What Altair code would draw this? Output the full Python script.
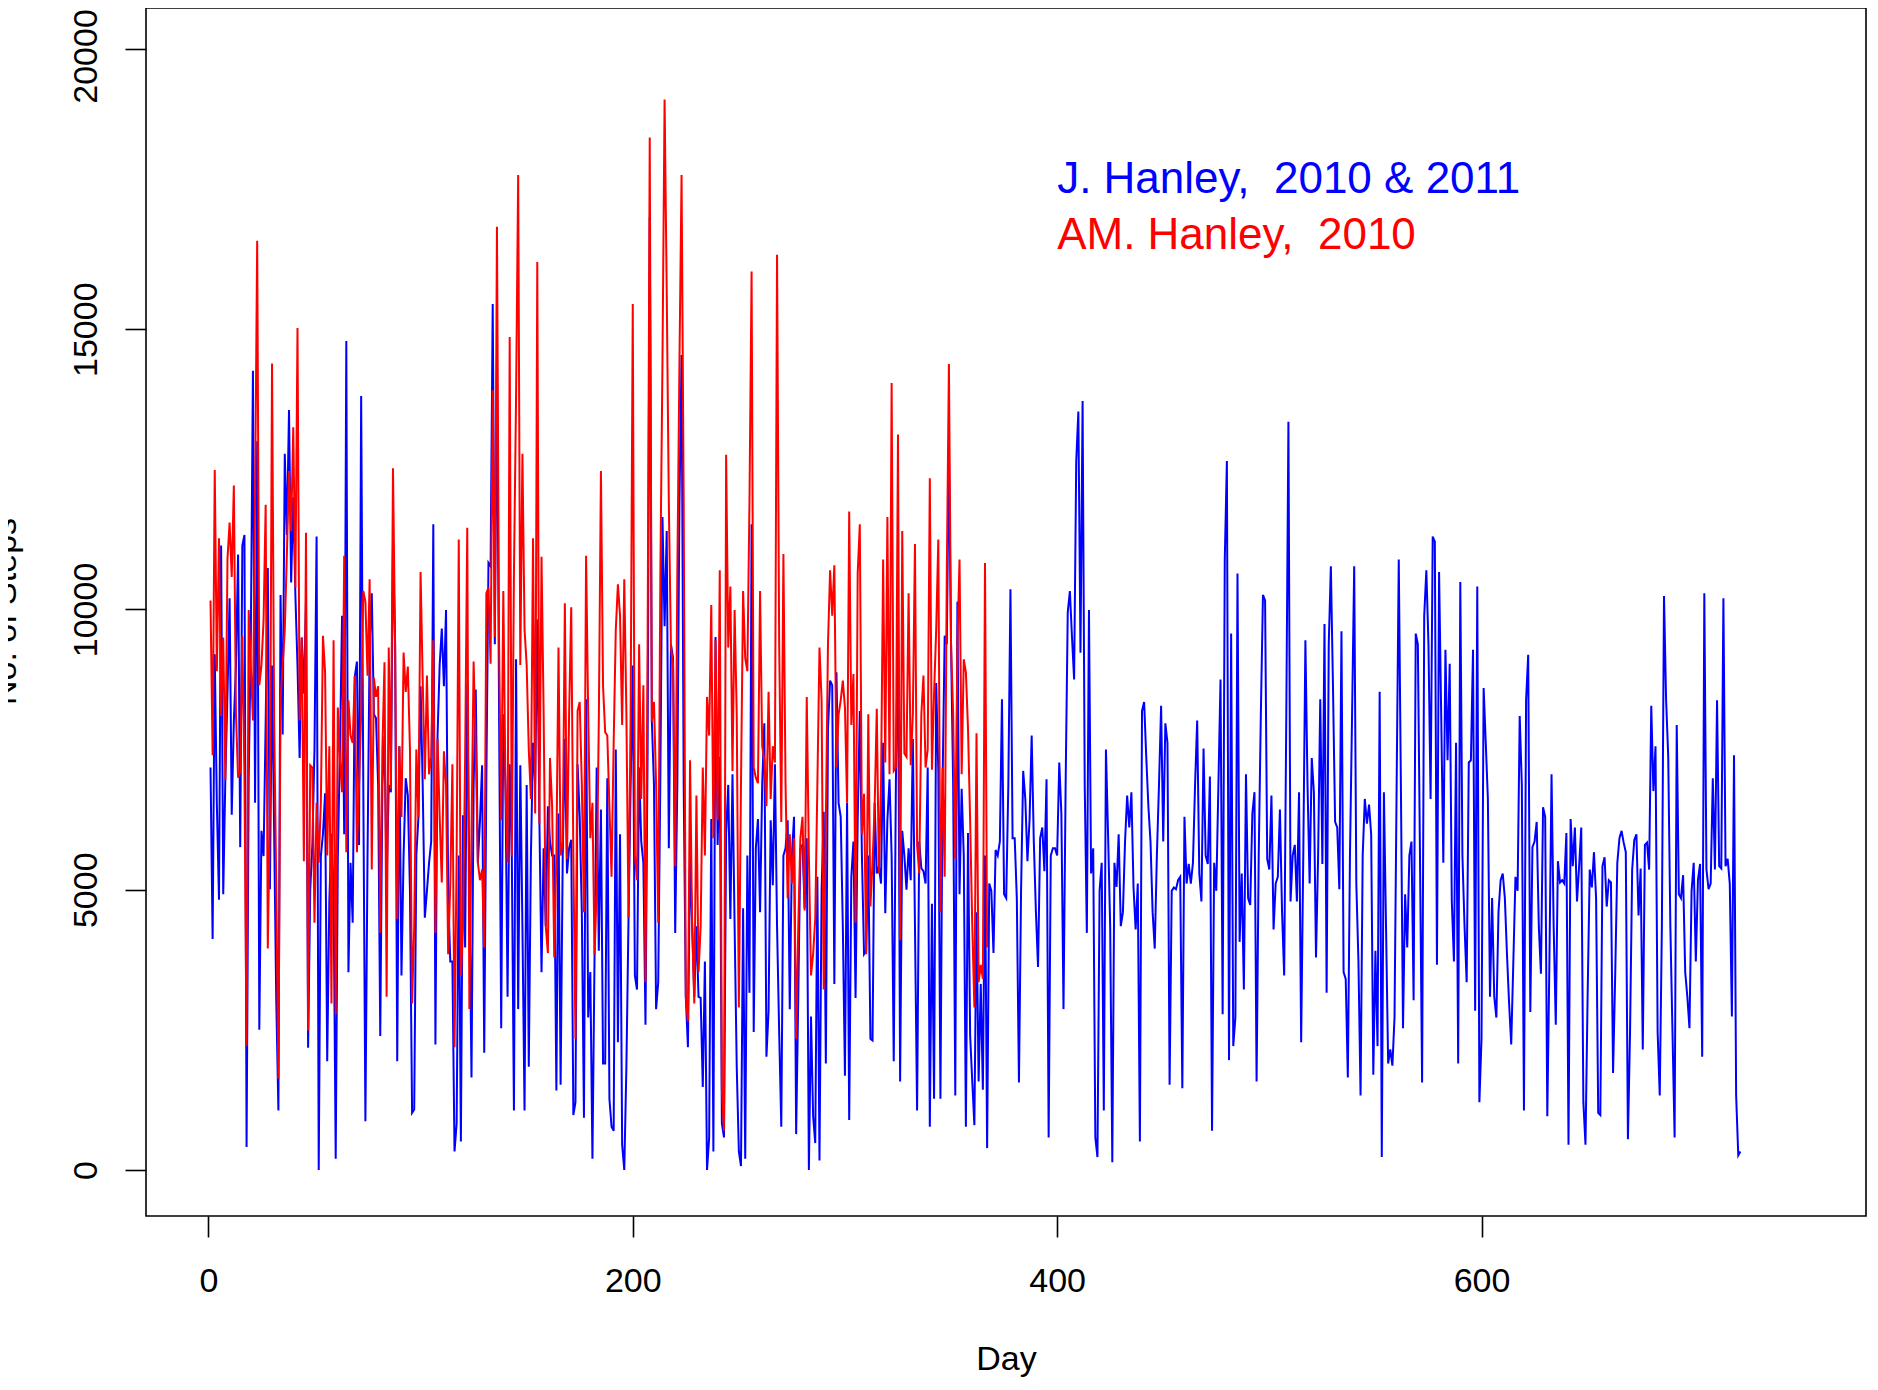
import altair as alt
import pandas as pd

# Daily step counts
blue_steps = [
    7180, 4120, 9200, 6500, 4820, 11140, 4920, 7000, 8500, 10200,
    6340, 8000, 9000, 10980, 5760, 11140, 11330, 410, 7000, 9500,
    14260, 6550, 13000, 2500, 6050, 5600, 8000, 10740, 5010, 9000,
    6000, 3000, 1060, 10260, 7770, 12780, 11330, 13560, 10480, 12000,
    10260, 9000, 7350, 9500, 8500, 10140, 2180, 5000, 5800, 7500,
    11300, 0, 5600, 6000, 6720, 1940, 4790, 6000, 5000, 200,
    5600, 7500, 9890, 5990, 14790, 3530, 5480, 4410, 8800, 9070,
    5800, 13810, 6900, 870, 5600, 9400, 10290, 8130, 8060, 6870,
    2390, 6870, 7750, 5110, 6870, 6740, 11140, 9380, 1940, 7560,
    3470, 5610, 6990, 6680, 4980, 1020, 1080, 5610, 6300, 8630,
    6870, 4500, 4980, 5480, 5860, 11520, 2240, 7750, 9010, 9660,
    8630, 9990, 4980, 3720, 3720, 330, 830, 5610, 510, 6330,
    3970, 8690, 5000, 1650, 6870, 8570, 5480, 6230, 7220, 2090,
    6990, 10830, 10770, 15450, 9380, 14500, 8130, 2530, 8130, 6870,
    3090, 7240, 5610, 1060, 9110, 2870, 7220, 4350, 1060, 6870,
    1840, 5610, 7620, 6870, 9820, 6240, 3530, 5740, 4350, 6490,
    5860, 5610, 5610, 1420, 6360, 1520, 5610, 7690, 5290, 5740,
    5890, 980, 1210, 7240, 6300, 4600, 930, 8400, 2720, 3530,
    200, 3850, 7180, 3910, 6430, 1900, 1900, 6990, 1270, 770,
    700, 7500, 2280, 5990, 450, 0, 1840, 4480, 6870, 9000,
    3470, 3220, 7180, 5860, 5480, 2590, 7500, 17000, 8000, 6870,
    2870, 3350, 7000, 11650, 9700, 11400, 5740, 9380, 9130, 4230,
    6870, 11900, 14540, 6870, 3090, 2190, 5610, 4350, 3090, 4350,
    3090, 3070, 1480, 3720, 0, 570, 6260, 330, 9510, 5800,
    7370, 830, 580, 6000, 6870, 4480, 7060, 4350, 1840, 330,
    70, 4670, 200, 5610, 3160, 11520, 2460, 5740, 6260, 4600,
    6870, 7970, 2020, 2840, 6240, 5080, 7240, 4350, 2460, 770,
    5610, 5740, 6240, 2870, 5610, 6300, 640, 3090, 5740, 5800,
    4670, 5920, 0, 2740, 960, 480, 5230, 170, 5000, 6390,
    1900, 7870, 8730, 8650, 3320, 8880, 6550, 6300, 4350, 1680,
    6550, 890, 5230, 5860, 3070, 6240, 8190, 5610, 3850, 3910,
    5610, 2340, 2310, 6550, 5290, 5420, 5110, 7620, 4580, 6240,
    6970, 5610, 1940, 6870, 9760, 1580, 6050, 5610, 5000, 5740,
    5170, 7690, 4350, 1060, 5860, 5380, 5330, 5110, 7180, 770,
    4750, 1270, 8690, 7120, 1270, 6870, 9530, 9380, 12910, 9380,
    6870, 1330, 10140, 4920, 6800, 5610, 770, 6010, 2400, 1580,
    800, 4600, 1580, 3320, 1430, 5610, 390, 5110, 4980, 3870,
    5710, 5610, 5860, 8400, 4920, 4850, 6870, 10360, 5920, 5920,
    4850, 1560, 4980, 7120, 6620, 5510, 6240, 7750, 5860, 4600,
    3620, 5920, 6110, 5330, 6970, 580, 5610, 5740, 5740, 5610,
    7270, 6360, 2870, 6870, 9950, 10330, 9510, 8750, 12650, 13530,
    9230, 13720, 6870, 4230, 9990, 5290, 5740, 580, 230, 4980,
    5480, 1060, 7500, 5990, 4350, 140, 5480, 5050, 5990, 4350,
    4600, 5860, 6680, 6110, 6740, 5040, 4290, 5110, 510, 8190,
    8350, 7370, 6490, 5860, 4600, 3950, 5610, 6870, 8280, 5860,
    7970, 7620, 1520, 4980, 5040, 5010, 5170, 5230, 1460, 6300,
    5110, 5460, 5110, 5480, 6870, 8020, 5290, 4790, 7520, 5610,
    5460, 7020, 700, 5480, 4980, 6870, 8750, 2780, 10890, 12650,
    1960, 9570, 2210, 2720, 10640, 4070, 5290, 3220, 7060, 4850,
    4730, 6360, 6740, 1580, 5610, 8130, 10260, 10160, 5550, 5360,
    6680, 4290, 5110, 5230, 6430, 4600, 3470, 8130, 13350, 4790,
    5610, 5800, 4790, 6740, 2280, 5610, 9450, 6870, 5110, 7350,
    6740, 3790, 5610, 8400, 5460, 9740, 3160, 9380, 10770, 8630,
    6210, 6110, 5010, 9610, 3530, 3410, 1650, 5610, 8130, 10770,
    5110, 3720, 1330, 5610, 6620, 6180, 6520, 5990, 1700, 3910,
    2210, 8530, 230, 6740, 4350, 1900, 2150, 1860, 2720, 6870,
    10890, 6870, 2530, 4920, 3970, 5610, 5860, 3030, 9570, 9380,
    5610, 1560, 9890, 10700, 9380, 6620, 11300, 11210, 3660, 10670,
    8130, 5480, 9280, 7310, 9030, 4790, 3720, 7620, 1900, 10490,
    5610, 4350, 3350, 7270, 7310, 9280, 2840, 10410, 1210, 2340,
    8600, 7620, 6620, 3090, 4850, 3090, 2720, 4600, 5170, 5290,
    4850, 3850, 2970, 2240, 3720, 5230, 4980, 8100, 6870, 1060,
    8380, 9190, 2820, 5760, 5860, 6210, 4350, 3500, 6470, 6300,
    960, 3720, 7060, 4350, 2590, 5510, 5130, 5170, 5110, 6010,
    450, 6260, 5420, 6110, 4790, 5420, 6110, 1210, 450, 3090,
    5360, 5040, 5670, 4850, 1020, 980, 5420, 5580, 4700, 5170,
    5130, 1730, 3470, 5480, 5920, 6050, 5840, 5670, 550, 2460,
    5360, 5890, 5990, 4540, 5380, 2150, 5800, 5840, 5360, 8280,
    6760, 7560, 2460, 1330, 4350, 10240, 8380, 7370, 4350, 2460,
    580, 7940, 4920, 4850, 5260, 3530, 3090, 2530, 4980, 5480,
    3720, 5170, 5460, 2020, 10290, 5360, 5010, 5110, 6990, 5360,
    8380, 5420, 5380, 10200, 5420, 5550, 5110, 2740, 7400, 1330,
    260, 330,
]

red_steps = [
    10160, 7400, 12490, 8900, 11270, 8100, 9500, 6960, 10900, 11550,
    10580, 12210, 8130, 7000, 7100, 9530, 7000, 2210, 9990, 9000,
    8020, 12000, 16580, 8650, 9000, 9800, 11870, 3950, 6400, 14390,
    8000, 5000, 1630, 8380, 9000, 9640, 11000, 12470, 11400, 13250,
    10390, 15020, 8020, 9500, 5510, 11370, 2490, 7220, 7180, 4410,
    6550, 5480, 6550, 9530, 8880, 5610, 7560, 2970, 9450, 2780,
    8250, 7310, 6740, 10960, 5670, 8380, 7750, 7620, 8820, 5670,
    6870, 8130, 10330, 10140, 8820, 10540, 5360, 8780, 8440, 8630,
    4230, 7500, 9060, 3090, 9320, 6800, 12520, 9380, 4480, 7560,
    6300, 9230, 8530, 8980, 7500, 2970, 4350, 7500, 6300, 10670,
    8750, 6970, 8820, 7060, 7370, 9450, 4230, 7690, 6300, 5130,
    7470, 6870, 3850, 5110, 7240, 2190, 5610, 11250, 3470, 4350,
    7370, 11460, 2870, 6000, 9070, 7500, 5480, 5170, 5360, 3970,
    10290, 10390, 9030, 13910, 9510, 16830, 9380, 6240, 10330, 6870,
    5480, 14860, 5610, 10640, 13780, 17750, 9010, 12780, 9640, 9010,
    7500, 6620, 11270, 6360, 16200, 6180, 10940, 8130, 4350, 3870,
    7350, 6490, 3790, 5610, 9320, 5610, 5860, 10110, 5550, 8130,
    10040, 5610, 2340, 8190, 8350, 6870, 4600, 10960, 8130, 5920,
    6550, 3850, 5000, 8000, 12470, 8630, 7810, 7750, 6490, 5230,
    7620, 9640, 10450, 9890, 7940, 10540, 8130, 4500, 8130, 15450,
    5610, 5170, 9380, 6620, 8650, 3350, 9380, 18420, 8000, 8350,
    6870, 4410, 10640, 14400, 19100, 15700, 11900, 9320, 9010, 5420,
    10640, 14400, 17750, 11900, 3090, 2650, 7310, 4350, 2970, 6680,
    3530, 4350, 7180, 5610, 8440, 7750, 10080, 5920, 9450, 6240,
    10700, 1460, 700, 12760, 9320, 10410, 7120, 9990, 8130, 2900,
    6870, 10330, 9130, 8900, 11900, 16030, 7180, 7000, 6900, 10330,
    7560, 7310, 6490, 8530, 6620, 7560, 7270, 16330, 9380, 6210,
    10990, 6870, 4850, 5990, 5110, 5920, 2340, 4350, 5920, 6300,
    4630, 8440, 5610, 3470, 3850, 4480, 6870, 9320, 8380, 3220,
    6240, 9380, 10700, 9890, 10790, 7180, 8130, 8380, 8730, 8250,
    6550, 11750, 7940, 8850, 4410, 10640, 11520, 5990, 6710, 3850,
    8130, 4700, 5480, 6490, 8230, 5290, 6870, 10890, 7270, 11650,
    7060, 14040, 7120, 7180, 13120, 4100, 11400, 7430, 7370, 10290,
    7220, 8130, 11170, 5800, 5290, 8130, 8820, 7180, 7500, 12340,
    7140, 8500, 9640, 11250, 4600, 7180, 5230, 10640, 14380, 9380,
    8130, 5550, 9380, 10890, 7060, 9110, 8880, 7870, 6240, 4350,
    2900, 7790, 3350, 3660, 3410, 10830, 3970,
]

x_ticks = [0, 200, 400, 600]
y_ticks = [0, 5000, 10000, 15000, 20000]
# a no-break space keeps the doubled gap after the comma visible in SVG
legend_labels = ["J. Hanley,\u00a0 2010 & 2011", "AM. Hanley,\u00a0 2010"]
legend_colors = ["#0000FF", "#FF0000"]
legend_day = [400, 400]
legend_steps = [17660, 16660]

blue_df = pd.DataFrame({"day": list(range(1, len(blue_steps) + 1)), "steps": blue_steps})
red_df = pd.DataFrame({"day": list(range(1, len(red_steps) + 1)), "steps": red_steps})
legend_df = pd.DataFrame({"day": legend_day, "steps": legend_steps,
                          "label": legend_labels, "color": legend_colors})

FONT = "Liberation Sans, Arial, Helvetica, sans-serif"

x_enc = alt.X(
    "day:Q",
    scale=alt.Scale(domain=[-29.4, 781.2], nice=False, zero=False),
    axis=alt.Axis(
        values=x_ticks, format="d", title="Day", grid=False, domain=False,
        ticks=True, tickSize=21, tickWidth=1.6, tickColor="black",
        labelFontSize=34, labelFont=FONT, labelColor="black",
        labelPadding=27, labelBaseline="top", labelFlush=False,
        labelOverlap=False, labelBound=False,
        titleFontSize=34, titleFont=FONT, titleFontWeight="normal",
        titleColor="black", titleX=860, titleY=153,
        titleBaseline="alphabetic", titleAlign="center",
    ),
)
y_enc = alt.Y(
    "steps:Q",
    scale=alt.Scale(domain=[-821, 20731], nice=False, zero=False),
    axis=alt.Axis(
        values=y_ticks, format="d", title="No. of Steps", grid=False,
        domain=False, ticks=True, tickSize=21, tickWidth=1.6,
        tickColor="black", labelFontSize=34, labelFont=FONT,
        labelColor="black", labelAngle=270, labelAlign="center",
        labelBaseline="bottom", labelPadding=22, labelFlush=False,
        labelOverlap=False, labelBound=False,
        labelOffset={"condition": {"test": "datum.value >= 20000", "value": 7},
                     "value": 0},
        titleFontSize=34, titleFont=FONT, titleFontWeight="normal",
        titleColor="black", titleAngle=270, titleX=-131, titleY=603,
        titleBaseline="alphabetic", titleAlign="center",
    ),
)

blue_line = alt.Chart(blue_df).mark_line(color="#0000FF", strokeWidth=2).encode(
    x=x_enc, y=y_enc
)
red_line = alt.Chart(red_df).mark_line(color="#FF0000", strokeWidth=2).encode(
    x=x_enc, y=y_enc
)
legend_text = alt.Chart(legend_df).mark_text(
    align="left", baseline="middle", fontSize=44, font=FONT
).encode(
    x=x_enc, y=y_enc, text="label:N", color=alt.Color("color:N", scale=None)
)

chart = alt.layer(blue_line, red_line, legend_text).properties(
    width=1720,
    height=1208,
    padding={"left": 138, "top": 0, "right": 2, "bottom": 162},
    autosize=alt.AutoSizeParams(type="none"),
    background="white",
).configure_view(stroke="black", strokeWidth=1.6)

chart.save("out.html", embed_options={"renderer": "svg", "actions": False})
